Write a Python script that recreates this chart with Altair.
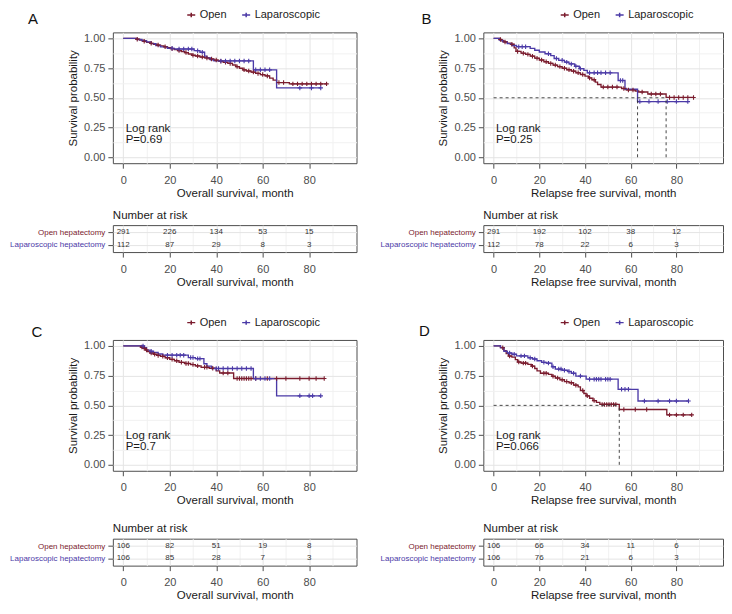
import altair as alt
import pandas as pd

OPEN_COLOR = "#7b1c2e"
LAP_COLOR = "#4b3aa7"
MAJOR = "#e4e4e4"
MINOR = "#f1f1f1"
GROUPS = ["Open", "Laparoscopic"]
ROW_LABELS = ["Open hepatectomy", "Laparoscopic hepatectomy"]
RISK_TIMES = [0, 20, 40, 60, 80]
X_TICKS = [0, 10, 20, 30, 40, 50, 60, 70, 80, 90]
Y_TICKS = [0, 0.125, 0.25, 0.375, 0.5, 0.625, 0.75, 0.875, 1.0]

# ---------------- Panel A : overall survival, all patients
A_open_time = [5.5, 7, 8.5, 10, 11.5, 13, 14.5, 16, 17.5, 19, 20.5, 22, 23.5, 25, 26.5, 28, 29.5, 31, 33, 35,
               37, 39, 41, 43, 45, 47, 48.5, 50, 51.5, 53, 55, 57, 59, 61, 63, 64.5, 66, 71.5]
A_open_surv = [0.993, 0.985, 0.975, 0.966, 0.958, 0.95, 0.943, 0.936, 0.929, 0.921, 0.913, 0.905, 0.897, 0.889,
               0.88, 0.868, 0.858, 0.851, 0.843, 0.835, 0.826, 0.817, 0.808, 0.798, 0.789, 0.776, 0.762, 0.748,
               0.735, 0.725, 0.716, 0.705, 0.695, 0.684, 0.665, 0.648, 0.628, 0.617]
A_open_end = 87.5
A_open_cens = [6, 9, 12, 15, 18, 21, 24, 27, 30, 32, 34, 36, 38, 40, 42, 44, 46, 49, 52, 54, 56, 58, 60, 62,
               67, 69, 73, 75, 77, 79, 81, 83, 85, 87.5]
A_lap_time = [6, 8, 10, 12, 14, 16, 19, 22, 30.5, 33, 35, 36, 37.5, 39, 56, 66]
A_lap_surv = [0.99, 0.98, 0.97, 0.955, 0.94, 0.928, 0.916, 0.91, 0.896, 0.883, 0.85, 0.835, 0.82, 0.81, 0.735, 0.583]
A_lap_end = 85
A_lap_cens = [21, 24, 26, 28, 29.5, 32, 34, 42, 44, 46, 48, 50, 52, 54, 57, 59, 61, 63, 76, 81, 85]
A_risk_open = [291, 226, 134, 53, 15]
A_risk_lap = [112, 87, 29, 8, 3]
A_p = "P=0.69"
A_medians = []

# ---------------- Panel B : relapse free survival, all patients
B_open_time = [2.5, 3.5, 4.5, 6, 7.5, 9, 9.8, 12, 14, 16, 18, 20, 22, 24, 26, 28, 30, 32, 34, 36, 38, 40,
               41.5, 43, 44.5, 45.5, 47, 56, 58, 62, 63.5, 67.5, 75.5]
B_open_surv = [0.99, 0.98, 0.97, 0.96, 0.95, 0.92, 0.89, 0.875, 0.865, 0.85, 0.833, 0.818, 0.803, 0.789, 0.775,
               0.762, 0.748, 0.736, 0.724, 0.71, 0.696, 0.682, 0.667, 0.652, 0.632, 0.612, 0.59, 0.578, 0.566,
               0.557, 0.549, 0.532, 0.503]
B_open_end = 87.5
B_open_cens = [3, 5, 8, 10.5, 13, 15, 17, 19, 21, 23, 25, 27, 29, 31, 33, 35, 37, 39, 42, 44, 48, 50, 52, 54,
               57, 59, 61, 65, 69, 71, 73, 77, 79, 81, 83, 85, 87.5]
B_lap_time = [2.5, 4, 6, 8, 10, 16, 18, 20, 22.5, 25, 26.5, 28.5, 31, 33, 35.5, 37.5, 39.5, 41, 54.5, 57.5, 63]
B_lap_surv = [0.985, 0.97, 0.955, 0.94, 0.93, 0.915, 0.9, 0.885, 0.87, 0.855, 0.83, 0.815, 0.8, 0.785, 0.765,
              0.745, 0.73, 0.71, 0.645, 0.572, 0.468]
B_lap_end = 85
B_lap_cens = [11, 12.5, 14, 24, 27.5, 30, 32, 34, 36, 38, 42, 44, 45.5, 47, 49, 51, 55.5, 56.5, 64, 68, 72,
              76, 80, 85]
B_risk_open = [291, 192, 102, 38, 12]
B_risk_lap = [112, 78, 22, 6, 3]
B_p = "P=0.25"
B_medians = [63, 75.5]

# ---------------- Panel C : overall survival, matched
C_open_time = [7.5, 8.5, 9.5, 10.5, 11.5, 13, 14.5, 16, 18, 20, 22, 24, 26.5, 29, 31, 33.5, 37, 40, 41.5, 47.5]
C_open_surv = [0.99, 0.98, 0.965, 0.952, 0.94, 0.93, 0.92, 0.912, 0.9, 0.887, 0.875, 0.862, 0.852, 0.843,
               0.832, 0.82, 0.812, 0.79, 0.772, 0.726]
C_open_end = 86.5
C_open_cens = [8, 9, 10, 12, 13.5, 15, 17, 19, 21, 23, 25, 27, 28, 30, 32, 35, 36, 38.5, 43, 45, 49, 50, 51,
               52, 53, 54, 55, 57, 62, 66, 70, 76, 80, 83, 86.5]
C_lap_time = [9, 10, 11.5, 13, 15, 17, 28, 31, 34.7, 36, 38, 56, 66]
C_lap_surv = [0.985, 0.965, 0.955, 0.945, 0.932, 0.922, 0.902, 0.893, 0.85, 0.83, 0.81, 0.725, 0.58]
C_lap_end = 85
C_lap_cens = [8.5, 12, 19, 21, 23, 24.5, 26, 29, 30, 32, 33, 40, 41, 43, 45, 47, 49, 51, 53, 55, 57, 59, 61,
              63, 76, 80, 81.5, 85]
C_risk_open = [106, 82, 51, 19, 8]
C_risk_lap = [106, 85, 28, 7, 3]
C_p = "P=0.7"
C_medians = []

# ---------------- Panel D : relapse free survival, matched
D_open_time = [3, 4.5, 5.5, 6.5, 8, 9.5, 10.5, 12, 15, 16.5, 18, 19, 20.5, 24, 25.5, 27, 29, 31, 33, 35, 37,
               38, 39.5, 40.5, 42, 43.5, 45, 46.5, 55, 75.8]
D_open_surv = [0.985, 0.96, 0.935, 0.915, 0.905, 0.885, 0.865, 0.855, 0.845, 0.83, 0.81, 0.79, 0.77, 0.76,
               0.745, 0.73, 0.715, 0.7, 0.69, 0.67, 0.655, 0.625, 0.6, 0.58, 0.56, 0.54, 0.525, 0.508, 0.465, 0.42]
D_open_end = 86.7
D_open_cens = [4, 7, 11, 13, 14, 17, 22, 23, 26, 28, 30, 32, 34, 36, 39, 41, 44, 47.5, 48.5, 49.5, 50.5, 51.5,
               52.5, 53.5, 57, 62, 67, 77, 80, 83, 86.7]
D_lap_time = [3, 4.5, 6, 8, 10, 15, 17, 19, 21, 23, 25.5, 27, 30, 32.5, 34, 36, 40.5, 54.5, 63.2]
D_lap_surv = [0.985, 0.955, 0.94, 0.93, 0.916, 0.9, 0.89, 0.875, 0.862, 0.855, 0.825, 0.805, 0.795, 0.785,
              0.77, 0.746, 0.72, 0.635, 0.537]
D_lap_end = 85.3
D_lap_cens = [7, 9, 12, 13.5, 16, 18, 22, 24, 26, 28.5, 29.5, 31, 33, 35, 38, 42, 44, 45, 46, 47, 49, 50, 51,
              56, 57.5, 59, 66, 72, 77, 80, 85.3]
D_risk_open = [106, 66, 34, 11, 6]
D_risk_lap = [106, 76, 21, 6, 3]
D_p = "P=0.066"
D_medians = [55]

OS_TITLE = "Overall survival, month"
RFS_TITLE = "Relapse free survival, month"

# ---------------- helpers
XS = alt.Scale(domain=[-4.5, 100.4], nice=False, zero=False)
YS = alt.Scale(domain=[-0.05, 1.05], nice=False, zero=False)
CS = alt.Scale(domain=GROUPS, range=[OPEN_COLOR, LAP_COLOR])
PLUS = "M-1,0H1M0,-1V1"


def step_frame(times, surv, end, group):
    t = [0.0] + list(times) + [end]
    s = [1.0] + list(surv) + [surv[-1]]
    return pd.DataFrame({"time": t, "surv": s, "group": group})


def censor_frame(times, surv, cens, group):
    ys = []
    for c in cens:
        v = 1.0
        for t, s in zip(times, surv):
            if t <= c:
                v = s
        ys.append(v)
    return pd.DataFrame({"time": cens, "surv": ys, "group": group})


def x_axis(title):
    return alt.Axis(
        values=X_TICKS, title=title,
        labelExpr="datum.value % 20 == 0 ? datum.label : ''",
        gridColor={"condition": {"test": "datum.value % 20 != 0", "value": MINOR}, "value": MAJOR},
        tickOpacity={"condition": {"test": "datum.value % 20 != 0", "value": 0}, "value": 1},
        labelPadding=6, titlePadding=2,
    )


Y_AXIS = alt.Axis(
    values=Y_TICKS, format=".2f", title="Survival probability",
    labelExpr="(datum.value * 8) % 2 == 0 ? datum.label : ''",
    gridColor={"condition": {"test": "(datum.value * 8) % 2 != 0", "value": MINOR}, "value": MAJOR},
    tickOpacity={"condition": {"test": "(datum.value * 8) % 2 != 0", "value": 0}, "value": 1},
    labelPadding=3, titlePadding=5,
)


def km_panel(letter, lpos, xtitle, open_d, lap_d, pval, medians, legend_x, width, height):
    o_t, o_s, o_end, o_c = open_d
    l_t, l_s, l_end, l_c = lap_d
    legend = alt.Legend(
        orient="none", legendX=legend_x, legendY=-23, direction="horizontal", title=None,
        symbolType="M-1,0H1M0,-0.55V0.55", symbolSize=64, symbolStrokeWidth=1.5,
        labelFontSize=11, labelColor="#222222", labelOffset=3, columnPadding=12, padding=0,
    )
    X = alt.X("time:Q", scale=XS, axis=x_axis(xtitle))
    Y = alt.Y("surv:Q", scale=YS, axis=Y_AXIS)
    C = alt.Color("group:N", scale=CS, legend=legend)

    layers = []
    for df in (step_frame(o_t, o_s, o_end, "Open"), step_frame(l_t, l_s, l_end, "Laparoscopic")):
        layers.append(alt.Chart(df).mark_line(interpolate="step-after", strokeWidth=1.35).encode(x=X, y=Y, color=C))
    cens = pd.concat([censor_frame(o_t, o_s, o_c, "Open"), censor_frame(l_t, l_s, l_c, "Laparoscopic")])
    layers.append(alt.Chart(cens).mark_point(shape=PLUS, size=20, strokeWidth=1.1, filled=False, opacity=1)
                  .encode(x=X, y=Y, color=C))
    if medians:
        rules = pd.DataFrame({
            "time": [0.0] + list(medians),
            "time2": [max(medians)] + list(medians),
            "surv": [0.5] + [0.0] * len(medians),
            "surv2": [0.5] * (len(medians) + 1),
        })
        layers.append(alt.Chart(rules).mark_rule(color="#333333", strokeDash=[3, 3], strokeWidth=0.9)
                      .encode(x=X, x2="time2:Q", y=Y, y2="surv2:Q"))
    ann = pd.DataFrame({"time": [1.0, 1.0], "surv": [0.24, 0.148], "label": ["Log rank", pval]})
    layers.append(alt.Chart(ann).mark_text(align="left", baseline="middle", fontSize=11.5, color="#1a1a1a")
                  .encode(x=X, y=Y, text="label:N"))
    lab = pd.DataFrame({"label": [letter]})
    layers.append(alt.Chart(lab).mark_text(align="center", baseline="middle", fontSize=15, color="#111111")
                  .encode(x=alt.value(lpos[0]), y=alt.value(lpos[1]), text="label:N"))
    return alt.layer(*layers).properties(width=width, height=height)


def risk_table(xtitle, open_counts, lap_counts, width, height):
    df = pd.DataFrame({
        "time": RISK_TIMES + RISK_TIMES,
        "row": [ROW_LABELS[0]] * len(RISK_TIMES) + [ROW_LABELS[1]] * len(RISK_TIMES),
        "n": list(open_counts) + list(lap_counts),
    })
    return alt.Chart(df).mark_text(fontSize=8, color="#333333").encode(
        x=alt.X("time:Q", scale=XS, axis=x_axis(xtitle)),
        y=alt.Y("row:N", scale=alt.Scale(type="point", domain=ROW_LABELS, padding=0.6),
                axis=alt.Axis(title=None, labelFontSize=8, grid=True, gridColor=MAJOR, labelPadding=3,
                              labelColor={"condition": {"test": "datum.value == 'Open hepatectomy'",
                                                        "value": OPEN_COLOR}, "value": LAP_COLOR})),
        text="n:Q",
    ).properties(width=width, height=height,
                 title=alt.TitleParams("Number at risk", anchor="start", frame="group", fontSize=11.5,
                                       fontWeight="normal", color="#1a1a1a", offset=4))


W_LEFT, W_RIGHT, H_KM, H_TAB = 244, 240, 131, 27

kmA = km_panel("A", (-80, -13), OS_TITLE, (A_open_time, A_open_surv, A_open_end, A_open_cens),
               (A_lap_time, A_lap_surv, A_lap_end, A_lap_cens), A_p, A_medians, 73, W_LEFT, H_KM)
kmB = km_panel("B", (-57, -13), RFS_TITLE, (B_open_time, B_open_surv, B_open_end, B_open_cens),
               (B_lap_time, B_lap_surv, B_lap_end, B_lap_cens), B_p, B_medians, 76, W_RIGHT, H_KM)
kmC = km_panel("C", (-76, -8), OS_TITLE, (C_open_time, C_open_surv, C_open_end, C_open_cens),
               (C_lap_time, C_lap_surv, C_lap_end, C_lap_cens), C_p, C_medians, 73, W_LEFT, H_KM)
kmD = km_panel("D", (-59, -9), RFS_TITLE, (D_open_time, D_open_surv, D_open_end, D_open_cens),
               (D_lap_time, D_lap_surv, D_lap_end, D_lap_cens), D_p, D_medians, 76, W_RIGHT, H_KM)

tabA = risk_table(OS_TITLE, A_risk_open, A_risk_lap, W_LEFT, H_TAB)
tabB = risk_table(RFS_TITLE, B_risk_open, B_risk_lap, W_RIGHT, H_TAB)
tabC = risk_table(OS_TITLE, C_risk_open, C_risk_lap, W_LEFT, H_TAB)
tabD = risk_table(RFS_TITLE, D_risk_open, D_risk_lap, W_RIGHT, H_TAB)


def indep(c):
    return c.resolve_scale(color="independent", x="independent", y="independent").resolve_legend(color="independent")


left = indep(alt.vconcat(indep(alt.vconcat(kmA, tabA, spacing=10)),
                         indep(alt.vconcat(kmC, tabC, spacing=16)), spacing=28))
right = indep(alt.vconcat(indep(alt.vconcat(kmB, tabB, spacing=10)),
                          indep(alt.vconcat(kmD, tabD, spacing=16)), spacing=28))

chart = indep(alt.hconcat(left, right, spacing=21)).properties(padding=0)
chart = chart.configure(font="Liberation Sans").configure_view(stroke="#4d4d4d", strokeWidth=1).configure_axis(
    domain=False, tickColor="#4d4d4d", tickSize=5, tickWidth=1, labelColor="#4d4d4d", labelFontSize=11,
    titleFontSize=11.5, titleFontWeight="normal", titleColor="#1a1a1a", gridWidth=1,
)

chart.save("out.html", embed_options={"renderer": "svg", "actions": False})
